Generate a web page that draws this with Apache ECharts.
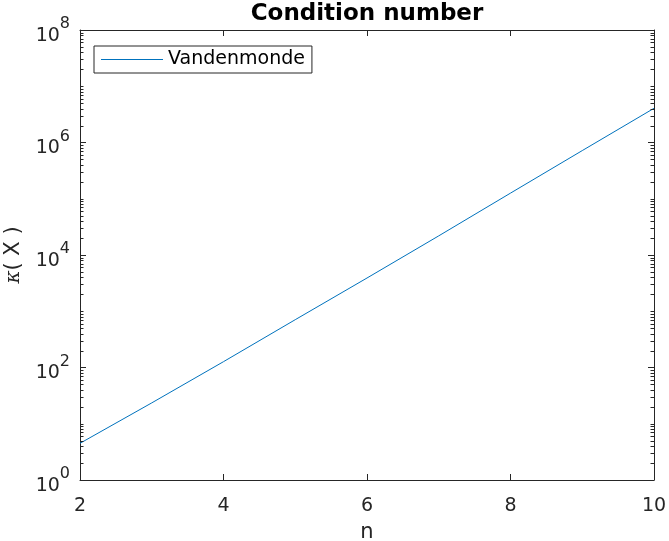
<!DOCTYPE html>
<html><head><meta charset="utf-8">
<script src="https://cdn.jsdelivr.net/npm/echarts@6/dist/echarts.min.js"></script>
<style>html,body{margin:0;padding:0;background:#fff}#c{width:669px;height:541px}</style>
</head><body><div id="c"></div>
<script>
// ---- data ----
const nValues = [2, 3, 4, 5, 6, 7, 8, 9, 10];
const condValues = [4.49, 23.5, 127, 708, 3900, 21900, 125900, 718000, 4055000];
const seriesName = 'Vandenmonde';
const xTicks = [2, 4, 6, 8, 10];
const yTickExponents = [0, 2, 4, 6, 8];

// minor tick positions for the log axis (2..9 x 10^k, plus odd decades)
const minorTickValues = [];
for (let k = 0; k < 8; k++) {
  for (let m = 2; m <= 9; m++) minorTickValues.push(m * Math.pow(10, k));
  if (k % 2 === 1) minorTickValues.push(Math.pow(10, k));
}

const AX = '#262626';
const FONT = 'DejaVu Sans';
const chart = echarts.init(document.getElementById('c'));
const xMin = xTicks[0], xMax = xTicks[xTicks.length - 1];
const yMin = Math.pow(10, yTickExponents[0]), yMax = Math.pow(10, yTickExponents[yTickExponents.length - 1]);

const lineData = nValues.map((n, i) => [n, condValues[i]]);

chart.setOption({
  animation: false,
  backgroundColor: '#fff',
  textStyle: { fontFamily: FONT },
  title: {
    text: 'Condition number',
    left: 367, top: 3, textAlign: 'center', padding: 0,
    textStyle: { fontFamily: FONT, fontWeight: 'bold', fontSize: 23, color: '#000' }
  },
  grid: { left: 80, right: 15, top: 30, bottom: 61, containLabel: false, outerBoundsMode: 'none' },
  legend: {
    data: [seriesName],
    left: 94, top: 46,
    orient: 'vertical',
    padding: [4, 7, 4, 7],
    icon: 'rect',
    itemWidth: 62, itemHeight: 1.2,
    borderColor: AX, borderWidth: 1, backgroundColor: '#fff',
    textStyle: { fontFamily: FONT, fontSize: 19, color: '#000' }
  },
  xAxis: [{
    type: 'value', min: xMin, max: xMax, interval: 2,
    name: 'n', nameLocation: 'middle', nameGap: 42,
    nameTextStyle: { fontFamily: FONT, fontSize: 21, color: AX },
    axisLine: { show: true, lineStyle: { color: AX, width: 1 } },
    axisTick: { show: true, inside: true, length: 6, lineStyle: { color: AX } },
    axisLabel: { fontFamily: FONT, fontSize: 19, color: AX, margin: 17 },
    splitLine: { show: false }
  }, {
    type: 'value', min: xMin, max: xMax, interval: 2, position: 'top',
    axisLine: { show: true, lineStyle: { color: AX, width: 1 } },
    axisTick: { show: true, inside: true, length: 6, lineStyle: { color: AX } },
    axisLabel: { show: false }, splitLine: { show: false }
  }],
  yAxis: [{
    type: 'log', logBase: 10, min: yMin, max: yMax, interval: 2,
    name: '{k|κ}( X )', nameLocation: 'middle', nameGap: 56, nameRotate: 90,
    nameTextStyle: {
      fontFamily: FONT, fontSize: 21, color: AX,
      rich: { k: { fontFamily: 'DejaVu Serif', fontStyle: 'italic', fontSize: 20, color: AX } }
    },
    axisLine: { show: true, lineStyle: { color: AX, width: 1 } },
    axisTick: { show: true, inside: true, length: 6, lineStyle: { color: AX } },
    axisLabel: {
      color: AX, margin: 10,
      formatter: v => '{a|10}{b|' + Math.round(Math.log10(v)) + '}',
      rich: {
        a: { fontFamily: FONT, fontSize: 19, color: AX, padding: [12, 0, 0, 0] },
        b: { fontFamily: FONT, fontSize: 16, color: AX, padding: [0, 0, 12, 0] }
      }
    },
    splitLine: { show: false }
  }, {
    type: 'log', logBase: 10, min: yMin, max: yMax, interval: 2, position: 'right',
    axisLine: { show: true, lineStyle: { color: AX, width: 1 } },
    axisTick: { show: true, inside: true, length: 6, lineStyle: { color: AX } },
    axisLabel: { show: false }, splitLine: { show: false }
  }],
  series: [{
    name: seriesName, type: 'line', data: lineData,
    xAxisIndex: 0, yAxisIndex: 0,
    symbol: 'none', showSymbol: false,
    lineStyle: { color: '#0072BD', width: 1 },
    itemStyle: { color: '#0072BD' },
    z: 3
  }]
});

// minor ticks on the log axis (left and right), positioned through the chart's own scales
const minorEls = [];
minorTickValues.forEach(v => {
  const pL = chart.convertToPixel({ xAxisIndex: 0, yAxisIndex: 0 }, [xMin, v]);
  const pR = chart.convertToPixel({ xAxisIndex: 0, yAxisIndex: 0 }, [xMax, v]);
  const y = Math.round(pL[1]) + 0.5;
  const xl = Math.round(pL[0]), xr = Math.round(pR[0]);
  minorEls.push({ type: 'line', silent: true, z: 10, shape: { x1: xl, y1: y, x2: xl + 3.5, y2: y }, style: { stroke: AX, lineWidth: 1 } });
  minorEls.push({ type: 'line', silent: true, z: 10, shape: { x1: xr - 3.5, y1: y, x2: xr, y2: y }, style: { stroke: AX, lineWidth: 1 } });
});
chart.setOption({ graphic: { elements: minorEls } });
</script></body></html>
